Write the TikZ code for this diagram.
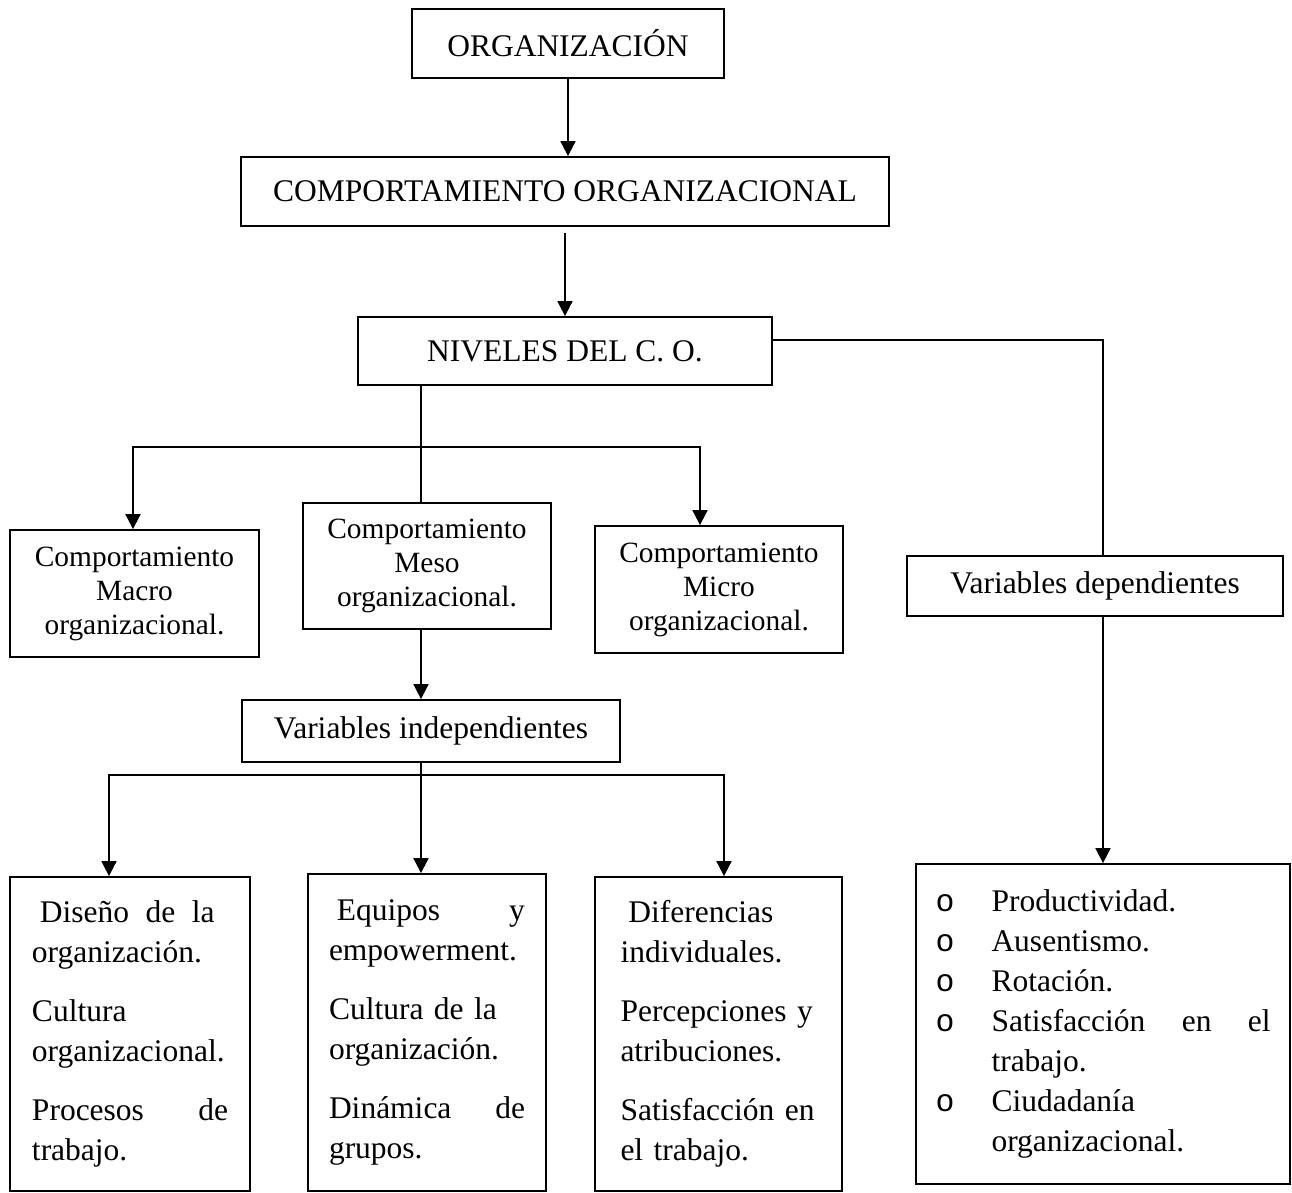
\documentclass[tikz,border=0pt]{standalone}
\usepackage{fontspec}
\setmainfont{Liberation Serif}
\newfontfamily\bulfont{Liberation Mono}
\usetikzlibrary{arrows.meta}

\newcommand{\bigfont}{\fontsize{15.75}{20}\selectfont}
\newcommand{\smallfont}{\fontsize{14.7}{17}\selectfont}
\newcommand{\bul}{\makebox[28pt][l]{\bulfont o}}

\tikzset{
  box/.style={draw, line width=0.9pt, inner sep=2pt, font=\bigfont},
  midbox/.style={box, font=\smallfont, align=center},
  listbox/.style={box, align=left, text width=98pt},
  arr/.style={-{Triangle[width=7.5pt,length=7.5pt]}, line width=0.9pt},
  link/.style={line width=0.9pt}
}

\begin{document}
\begin{tikzpicture}[x=0.5pt, y=-0.5pt]
      \useasboundingbox (0,0) rectangle (1292,1193);

      % Draw the top boxes
      \node[box, minimum width=156pt, minimum height=34.5pt] (org) at (568,43.5) {ORGANIZACIÓN};
      \node[box, minimum width=324pt, minimum height=34.5pt] (comp) at (565,191.5) {COMPORTAMIENTO ORGANIZACIONAL};
      \node[box, minimum width=207pt, minimum height=34pt] (niv) at (565,351) {NIVELES DEL C. O.};

      % Draw the three levels
      \node[midbox, minimum width=124.5pt, minimum height=63.5pt] (macro) at (134.5,593.5)
      {Comportamiento\\ Macro\\ organizacional.};
      \node[midbox, minimum width=124pt, minimum height=63pt] (meso) at (427,566)
      {Comportamiento\\ Meso\\ organizacional.};
      \node[midbox, minimum width=124pt, minimum height=63.5pt] (micro) at (719,589.5)
      {Comportamiento\\ Micro\\ organizacional.};

      % Draw the variables
      \node[box, minimum width=189pt, minimum height=31pt] (vind) at (431,731) {Variables independientes};
      \node[box, minimum width=188pt, minimum height=30pt] (vdep) at (1095,586) {Variables dependientes};

      % Draw the bottom boxes
      \node[listbox, minimum width=120pt, minimum height=157pt] (dis) at (130,1034)
      {\hspace*{3.9pt}Diseño\hspace{3pt} de\hspace{3pt} la\\ organización.\\[9.5pt]
      Cultura\\ organizacional.\\[9.5pt]
      \makebox[98pt][l]{Procesos\hfill de}\\ trabajo.};
      \node[listbox, minimum width=119pt, minimum height=158.5pt] (equ) at (427,1032.5)
      {\makebox[98pt][l]{\hspace*{3.9pt}Equipos\hfill y}\\ empowerment.\\[9.5pt]
      Cultura de la\\ organización.\\[9.5pt]
      \makebox[98pt][l]{Dinámica\hfill de}\\ grupos.};
      \node[listbox, minimum width=123.5pt, minimum height=157pt] (dif) at (718.5,1034)
      {\hspace*{3.9pt}Diferencias\\ individuales.\\[9.5pt]
      Percepciones y\\ atribuciones.\\[9.5pt]
      Satisfacción en\\ el trabajo.};
      \node[box, align=left, text width=167.5pt, minimum width=187pt, minimum height=160pt] (prod) at (1103,1024)
      {\bul Productividad.\\
      \bul Ausentismo.\\
      \bul Rotación.\\
      \bul\makebox[139.5pt][l]{Satisfacción\hfill en\hfill el}\\
      \hspace*{28pt}trabajo.\\
      \bul Ciudadanía\\
      \hspace*{28pt}organizacional.};

      % Add the arrows at the top
      \draw[arr] (org.south) -- (org.south |- comp.north);
      \draw[arr] ([yshift=-3pt]comp.south) -- (niv.north);

      % Add the branches to the levels
      \coordinate (split1) at (421,447);
      \draw[link] (split1 |- niv.south) -- (split1 |- meso.north);
      \draw[arr] (split1) -| ([xshift=-0.75pt]macro.north);
      \draw[arr] (split1) -| ([xshift=-9.5pt]micro.north);

      % Add the branch to the dependent variables
      \coordinate (right) at (1103,340);
      \draw[link] (niv.east |- right) -- (right) -- (right |- vdep.north);
      \draw[arr] (right |- vdep.south) -- (right |- prod.north);

      % Add the branches to the independent variables
      \draw[arr] (split1 |- meso.south) -- (split1 |- vind.north);
      \coordinate (split2) at (421,775);
      \draw[link] (split1 |- vind.south) -- (split2);
      \draw[arr] (split2) -| ([xshift=-10.5pt]dis.north);
      \draw[arr] (split2) -- (split2 |- equ.north);
      \draw[arr] (split2) -| ([xshift=2.75pt]dif.north);
\end{tikzpicture}
\end{document}
